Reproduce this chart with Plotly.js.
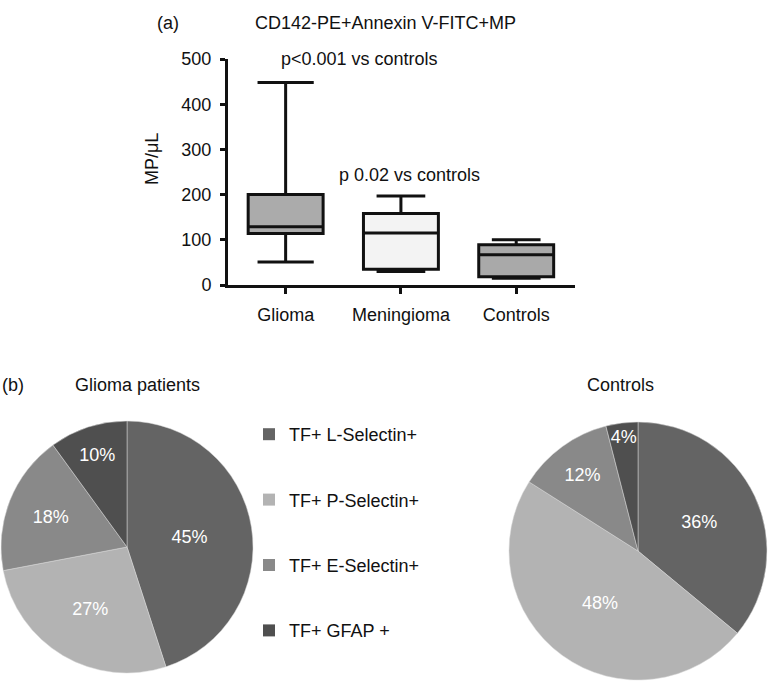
<!DOCTYPE html>
<html>
<head>
<meta charset="utf-8">
<script src="https://cdn.plot.ly/plotly-3.0.1.min.js"></script>
<style>html,body{margin:0;padding:0;background:#fff;}#chart{width:770px;height:681px;}</style>
</head>
<body>
<div id="chart"></div>
<script>
// ---- Panel (a): box plot data (MP/µL) ----
var categories = ['Glioma', 'Meningioma', 'Controls'];
var lowerFence = [51, 30, 15];
var q1Values = [114, 35, 18];
var medianValues = [129, 115, 67];
var q3Values = [200, 158, 89];
var upperFence = [448, 197, 100];
var boxFills = ['#ababab', '#f3f3f3', '#a9a9a9'];
var whiskerWidths = [0.75, 0.65, 0.65];

// ---- Panel (b): pie data (%) ----
var sliceLabels = ['TF+ L-Selectin+', 'TF+ P-Selectin+', 'TF+ E-Selectin+', 'TF+ GFAP +'];
var gliomaPct = [45, 27, 18, 10];
var controlsPct = [36, 48, 12, 4];
var sliceColors = ['#646464', '#b3b3b3', '#898989', '#4f4f4f'];

var FONT = 'Liberation Sans, Arial, Helvetica, sans-serif';
var data = [];

for (var i = 0; i < categories.length; i++) {
  data.push({
    type: 'box',
    x: [categories[i]],
    q1: [q1Values[i]],
    median: [medianValues[i]],
    q3: [q3Values[i]],
    lowerfence: [lowerFence[i]],
    upperfence: [upperFence[i]],
    width: 0.65,
    whiskerwidth: whiskerWidths[i],
    fillcolor: boxFills[i],
    line: {color: '#111111', width: 3},
    boxpoints: false,
    showlegend: false,
    hoverinfo: 'skip',
    xaxis: 'x', yaxis: 'y'
  });
}

function pieTrace(vals, dom) {
  return {
    type: 'pie',
    labels: sliceLabels,
    values: vals,
    sort: false,
    direction: 'clockwise',
    rotation: 0,
    marker: {colors: sliceColors, line: {color: '#d8d8d8', width: 0.5}},
    texttemplate: '%{value}%',
    textposition: 'inside',
    insidetextorientation: 'horizontal',
    textfont: {color: '#ffffff', size: 18, family: FONT},
    showlegend: false,
    hoverinfo: 'skip',
    domain: dom
  };
}
data.push(pieTrace(gliomaPct, {x: [1 / 770, 253 / 770], y: [(681 - 673) / 681, (681 - 421) / 681]}));
data.push(pieTrace(controlsPct, {x: [509 / 770, 767 / 770], y: [1 / 681, 259 / 681]}));

// legend entries (shared legend for both pies)
for (var k = 0; k < sliceLabels.length; k++) {
  data.push({
    type: 'scatter', mode: 'markers',
    x: [0], y: [0],
    xaxis: 'x2', yaxis: 'y2',
    name: sliceLabels[k],
    legendgroup: 'g' + k,
    marker: {symbol: 'square', size: 12, color: sliceColors[k]},
    hoverinfo: 'skip'
  });
}

var layout = {
  width: 770, height: 681,
  margin: {l: 0, r: 0, t: 0, b: 0},
  paper_bgcolor: '#ffffff', plot_bgcolor: '#ffffff',
  font: {family: FONT, size: 18, color: '#111111'},
  boxmode: 'overlay',
  uniformtext: {mode: 'show', minsize: 18},
  xaxis: {
    domain: [228 / 770, 575 / 770],
    type: 'category',
    categoryorder: 'array', categoryarray: categories,
    range: [-0.5, 2.51],
    showline: true, linecolor: '#111111', linewidth: 3,
    ticks: 'outside', ticklen: 6, tickwidth: 3, tickcolor: '#111111',
    ticklabelstandoff: 5,
    showgrid: false, zeroline: false,
    tickfont: {size: 18, family: FONT, color: '#111111'},
    fixedrange: true
  },
  yaxis: {
    domain: [(681 - 285) / 681, (681 - 59) / 681],
    range: [0, 500],
    tickvals: [0, 100, 200, 300, 400, 500],
    showline: true, linecolor: '#111111', linewidth: 3,
    ticks: 'outside', ticklen: 5, tickwidth: 3, tickcolor: '#111111',
    ticklabelstandoff: 5,
    showgrid: false, zeroline: false,
    tickfont: {size: 18, family: FONT, color: '#111111'},
    fixedrange: true
  },
  xaxis2: {domain: [0, 0.01], range: [1, 2], visible: false, anchor: 'y2'},
  yaxis2: {domain: [0, 0.01], range: [1, 2], visible: false, anchor: 'x2'},
  showlegend: true,
  legend: {
    x: 249 / 770, xanchor: 'left',
    y: (681 - 416) / 681, yanchor: 'top',
    tracegroupgap: 39,
    font: {size: 18, family: FONT, color: '#111111'},
    bgcolor: 'rgba(0,0,0,0)',
    itemclick: false, itemdoubleclick: false
  },
  annotations: [
    {text: '(a)', x: 168, y: 23},
    {text: 'CD142-PE+Annexin V-FITC+MP', x: 385, y: 23},
    {text: 'p<0.001 vs controls', x: 359, y: 59},
    {text: 'p 0.02 vs controls', x: 409, y: 175},
    {text: 'MP/μL', x: 152, y: 159, textangle: -90},
    {text: '(b)', x: 13, y: 385},
    {text: 'Glioma patients', x: 137, y: 385},
    {text: 'Controls', x: 620, y: 385}
  ].map(function (a) {
    return {
      text: a.text, textangle: a.textangle || 0,
      xref: 'paper', yref: 'paper',
      x: a.x / 770, y: 1 - a.y / 681,
      xanchor: 'center', yanchor: 'middle',
      showarrow: false,
      font: {size: 18, family: FONT, color: '#111111'}
    };
  })
};

Plotly.newPlot('chart', data, layout, {displayModeBar: false, staticPlot: true});
</script>
</body>
</html>
